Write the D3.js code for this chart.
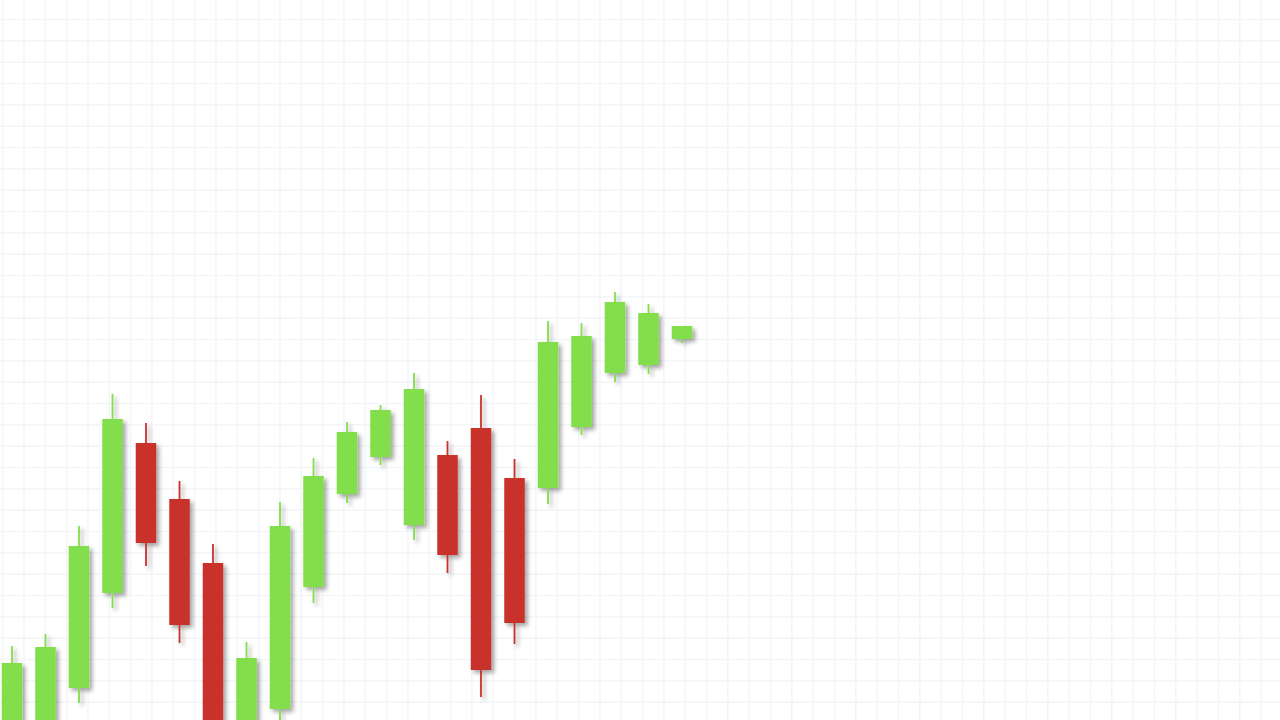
<!DOCTYPE html>
<html>
<head>
<meta charset="utf-8">
<script src="https://cdn.jsdelivr.net/npm/d3@7"></script>
<style>
html,body{margin:0;padding:0;background:#ffffff;overflow:hidden;}
svg{display:block;}
</style>
</head>
<body>
<svg id="chart" width="1280" height="720"></svg>
<script>
// Candle data (price units)
const periods = d3.range(1, 22);
const opens  = [98.0, 98.5, 103.2, 112.7, 127.7, 122.1, 115.7, 98.0, 101.1, 113.3, 122.6, 126.3, 119.5, 126.5, 129.2, 124.2, 123.2, 129.3, 134.7, 135.5, 138.1];
const highs  = [107.4, 108.6, 119.4, 132.6, 129.7, 123.9, 117.6, 107.8, 121.8, 126.2, 129.8, 131.5, 134.7, 127.9, 132.5, 126.1, 139.9, 139.7, 142.8, 141.6, 139.4];
const lows   = [96.0, 97.0, 101.7, 111.2, 115.4, 107.7, 97.0, 96.5, 99.7, 111.7, 121.7, 125.5, 118.0, 114.7, 102.3, 107.6, 121.6, 128.5, 133.8, 134.6, 137.7];
const closes = [105.7, 107.3, 117.4, 130.1, 117.7, 109.5, 98.5, 106.2, 119.4, 124.4, 128.8, 131.0, 133.1, 116.5, 105.0, 109.7, 137.8, 138.4, 141.8, 140.7, 139.4];

const W = 1280, H = 720;
const svg = d3.select("#chart");

const defs = svg.append("defs");
const f = defs.append("filter").attr("id", "shadow")
  .attr("x", "-50%").attr("y", "-10%").attr("width", "200%").attr("height", "130%");
f.append("feDropShadow").attr("dx", 3).attr("dy", 3).attr("stdDeviation", 2)
  .attr("flood-color", "#000").attr("flood-opacity", 0.35);

// scales
const x = d3.scaleLinear().domain([1, 21]).range([12, 682]);
const y = d3.scaleLinear().domain([100, 172]).range([H, 0]);

// grid (spacing ~21.33 px)
const gridStep = 21.33;
const gx = d3.scaleLinear().domain([0, 1]).range([2.67, 2.67 + gridStep]);
const gy = d3.scaleLinear().domain([0, 1]).range([-1.8, -1.8 + gridStep]);
const grid = svg.append("g").attr("stroke", "#f3f5f9").attr("stroke-width", 1.6);
grid.selectAll("line.v").data(d3.range(0, 61)).join("line").attr("class", "v")
  .attr("x1", d => gx(d)).attr("x2", d => gx(d)).attr("y1", 0).attr("y2", H);
grid.selectAll("line.h").data(d3.range(0, 35)).join("line").attr("class", "h")
  .attr("y1", d => gy(d)).attr("y2", d => gy(d)).attr("x1", 0).attr("x2", W);

const data = periods.map((p, i) => ({p, o: opens[i], h: highs[i], l: lows[i], c: closes[i]}));
const green = "#82df4b", red = "#c9302c";
const bodyW = 20.5;

const g = svg.append("g").attr("filter", "url(#shadow)");
const candles = g.selectAll("g.candle").data(data).join("g").attr("class", "candle");
candles.append("line")
  .attr("x1", d => x(d.p)).attr("x2", d => x(d.p))
  .attr("y1", d => y(d.h)).attr("y2", d => y(d.l))
  .attr("stroke", d => d.c >= d.o ? green : red).attr("stroke-width", 1.8);
candles.append("rect")
  .attr("x", d => x(d.p) - bodyW / 2).attr("width", bodyW)
  .attr("y", d => y(Math.max(d.o, d.c)))
  .attr("height", d => Math.abs(y(d.o) - y(d.c)))
  .attr("fill", d => d.c >= d.o ? green : red);
</script>
</body>
</html>
